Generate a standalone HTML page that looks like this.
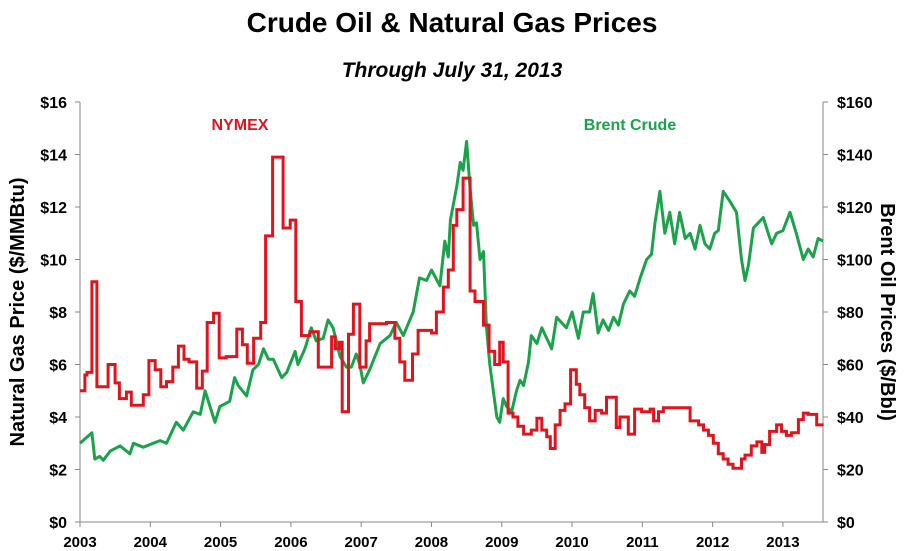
<!DOCTYPE html>
<html><head><meta charset="utf-8">
<style>
html,body{margin:0;padding:0;background:#fff;}
svg{display:block;}
text{font-family:"Liberation Sans",sans-serif;}
</style></head>
<body>
<svg id="chart" width="904" height="551" viewBox="0 0 904 551" xmlns="http://www.w3.org/2000/svg">
<text x="452" y="32" text-anchor="middle" font-size="28" font-weight="bold">Crude Oil &amp; Natural Gas Prices</text>
<text x="452" y="77" text-anchor="middle" font-size="21" font-weight="bold" font-style="italic">Through July 31, 2013</text>
<text transform="translate(24,312) rotate(-90)" text-anchor="middle" font-size="20" font-weight="bold">Natural Gas Price ($/MMBtu)</text>
<text transform="translate(881,312) rotate(90)" text-anchor="middle" font-size="20" font-weight="bold">Brent Oil Prices ($/Bbl)</text>
<text x="240" y="130" text-anchor="middle" font-size="16" font-weight="bold" fill="#e0141c">NYMEX</text>
<text x="630" y="130" text-anchor="middle" font-size="16" font-weight="bold" fill="#1aa34a">Brent Crude</text>
<g id="axes"></g>
<g id="series"></g>
</svg>
<script>
const xYears = [2003,2004,2005,2006,2007,2008,2009,2010,2011,2012,2013];
const gasTicks = [0,2,4,6,8,10,12,14,16];
const oilTicks = [0,20,40,60,80,100,120,140,160];
const gasDates = [2003.00,2003.07,2003.10,2003.17,2003.24,2003.40,2003.50,2003.56,2003.66,2003.73,2003.90,2003.98,2004.07,2004.15,2004.23,2004.32,2004.40,2004.48,2004.55,2004.66,2004.74,2004.81,2004.90,2004.98,2005.08,2005.23,2005.31,2005.38,2005.47,2005.57,2005.64,2005.74,2005.89,2005.99,2006.07,2006.15,2006.27,2006.39,2006.58,2006.63,2006.69,2006.73,2006.82,2006.89,2006.98,2007.07,2007.12,2007.36,2007.48,2007.55,2007.62,2007.73,2007.81,2008.00,2008.07,2008.17,2008.24,2008.31,2008.36,2008.45,2008.55,2008.62,2008.74,2008.82,2008.90,2008.97,2009.02,2009.09,2009.16,2009.23,2009.31,2009.42,2009.50,2009.57,2009.64,2009.69,2009.76,2009.83,2009.90,2009.98,2010.06,2010.11,2010.18,2010.25,2010.33,2010.42,2010.49,2010.63,2010.68,2010.80,2010.89,2010.99,2011.11,2011.16,2011.23,2011.30,2011.68,2011.80,2011.87,2011.94,2012.01,2012.08,2012.15,2012.22,2012.29,2012.41,2012.46,2012.55,2012.63,2012.70,2012.74,2012.81,2012.91,2012.98,2013.05,2013.12,2013.22,2013.29,2013.36,2013.48];
const gasValues = [5.0,5.6,5.7,9.15,5.15,6.0,5.3,4.7,4.95,4.45,4.85,6.15,5.8,5.15,5.35,5.9,6.7,6.2,6.1,5.1,5.75,7.6,7.95,6.25,6.3,7.35,6.75,6.05,7.0,7.6,10.9,13.9,11.2,11.5,8.4,7.1,7.25,5.9,7.05,6.6,6.85,4.2,7.15,8.3,5.9,6.9,7.55,7.6,7.0,6.1,5.4,6.4,7.3,7.2,8.0,8.95,9.6,11.3,11.9,13.1,8.8,8.4,7.5,6.5,6.0,6.85,6.1,4.15,4.0,3.65,3.35,3.5,3.95,3.5,3.25,2.8,3.7,4.25,4.5,5.8,5.25,4.85,4.35,3.85,4.25,4.15,4.75,3.6,4.0,3.35,4.3,4.2,4.3,3.85,4.2,4.35,3.85,3.7,3.5,3.3,3.0,2.6,2.4,2.2,2.05,2.4,2.55,2.9,3.05,2.65,2.95,3.45,3.7,3.45,3.3,3.4,3.9,4.15,4.1,3.7];
const gasEnd = 2013.58;
const oilDates = [2003.00,2003.17,2003.21,2003.28,2003.33,2003.43,2003.57,2003.71,2003.76,2003.90,2004.04,2004.14,2004.23,2004.37,2004.47,2004.61,2004.71,2004.78,2004.85,2004.92,2004.99,2005.13,2005.20,2005.25,2005.37,2005.46,2005.54,2005.61,2005.68,2005.75,2005.87,2005.94,2006.06,2006.10,2006.20,2006.29,2006.36,2006.46,2006.53,2006.60,2006.70,2006.79,2006.86,2006.93,2006.98,2007.03,2007.12,2007.27,2007.41,2007.50,2007.60,2007.74,2007.83,2007.93,2008.00,2008.12,2008.19,2008.24,2008.27,2008.36,2008.41,2008.45,2008.50,2008.55,2008.60,2008.64,2008.69,2008.74,2008.78,2008.83,2008.88,2008.93,2008.97,2009.02,2009.07,2009.14,2009.21,2009.26,2009.31,2009.38,2009.42,2009.50,2009.57,2009.64,2009.71,2009.78,2009.85,2009.92,2010.00,2010.09,2010.16,2010.25,2010.30,2010.37,2010.44,2010.52,2010.59,2010.66,2010.73,2010.82,2010.89,2010.97,2011.06,2011.13,2011.18,2011.25,2011.32,2011.39,2011.46,2011.53,2011.61,2011.68,2011.75,2011.82,2011.89,2011.96,2012.03,2012.08,2012.15,2012.25,2012.34,2012.41,2012.46,2012.51,2012.58,2012.65,2012.72,2012.79,2012.84,2012.91,2013.00,2013.10,2013.19,2013.29,2013.36,2013.43,2013.50,2013.57];
const oilValues = [30,34,24,25,23.5,27,29,26,30,28.5,30,31,30,38,35,42,41,50,44,38,44,46,55,52,48,58,60,66,62,62,55,57,65,60,66,74,69,70,77,74,63,59,59,64,60,53,58,68,71,76,71,80,93,92,96,90,107,101,115,128,137,134,145,127,113,114,100,103,75,60,50,40,38,47,44,42,50,54,52,61,71,68,74,70,66,78,76,74,80,70,80,80,87,72,77,73,78,75,83,88,86,93,100,102,114,126,110,118,106,118,108,110,104,113,106,104,110,111,126,122,118,100,92,98,112,114,116,110,106,110,111,118,110,100,104,101,108,107];

const X0=80, X1=823, Y0=522, Y1=102;
const T0=2003, T1=2013.57;
function xs(t){return X0+(t-T0)/(T1-T0)*(X1-X0);}
function yg(v){return Y0-(v/16)*(Y0-Y1);}
function yo(v){return Y0-(v/160)*(Y0-Y1);}
const NS="http://www.w3.org/2000/svg";
function mk(tag,attrs,parent){const e=document.createElementNS(NS,tag);for(const k in attrs)e.setAttribute(k,attrs[k]);parent.appendChild(e);return e;}
const axes=document.getElementById('axes');
const series=document.getElementById('series');

const la=mk('line',{x1:X0,y1:Y1,x2:X0,y2:Y0,stroke:'#888','stroke-width':1},axes);


const ra=mk('line',{x1:X1,y1:Y1,x2:X1,y2:Y0,stroke:'#888','stroke-width':1},axes);


const ba=mk('line',{x1:X0,y1:Y0,x2:X1,y2:Y0,stroke:'#888','stroke-width':1},axes);



gasTicks.forEach(v=>{
  const y=yg(v);
  mk('line',{x1:X0-5,y1:y,x2:X0,y2:y,stroke:'#888'},axes);
  const t=mk('text',{x:X0-13,y:y+6,'text-anchor':'end','font-size':16,'font-weight':'bold','font-family':'Liberation Serif, serif'},axes);
  t.textContent='$'+v;
  
  
});
oilTicks.forEach(v=>{
  const y=yo(v);
  mk('line',{x1:X1,y1:y,x2:X1+5,y2:y,stroke:'#888'},axes);
  const t=mk('text',{x:X1+14,y:y+6,'text-anchor':'start','font-size':16,'font-weight':'bold','font-family':'Liberation Serif, serif'},axes);
  t.textContent='$'+v;
  
  
});
xYears.forEach(yr=>{
  const x=xs(yr);
  mk('line',{x1:x,y1:Y0,x2:x,y2:Y0+5,stroke:'#888'},axes);
  const t=mk('text',{x:x,y:Y0+25,'text-anchor':'middle','font-size':15,'font-weight':'bold','font-family':'Liberation Serif, serif'},axes);
  t.textContent=String(yr);
  
  
});

// Brent line
let d='';
oilDates.forEach((t,i)=>{d+=(i?'L':'M')+xs(t).toFixed(1)+','+yo(oilValues[i]).toFixed(1);});
const op=mk('path',{d:d,fill:'none',stroke:'#1aa34a','stroke-width':3,'stroke-linejoin':'round'},series);



// Gas step line
let g='';
gasDates.forEach((t,i)=>{
  const y=yg(gasValues[i]).toFixed(1);
  const xa=xs(t).toFixed(1);
  const xb=xs(i<gasDates.length-1?gasDates[i+1]:gasEnd).toFixed(1);
  g+=(i?'L':'M')+xa+','+y+'L'+xb+','+y;
});
const gp=mk('path',{d:g,fill:'none',stroke:'#e0141c','stroke-width':3,'stroke-linejoin':'miter'},series);


</script>
</body></html>
